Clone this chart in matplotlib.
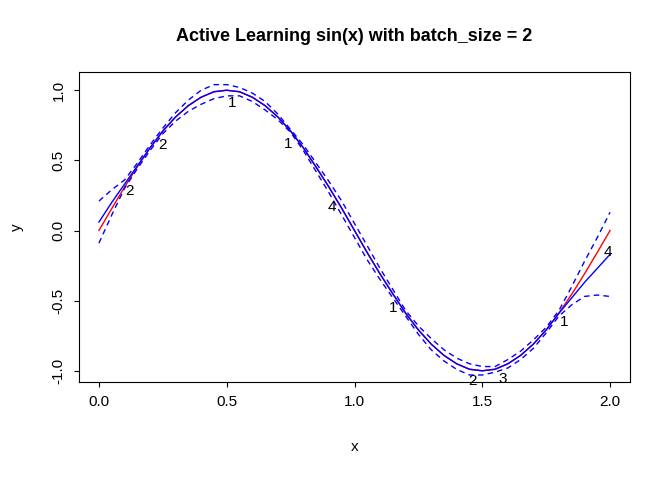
import matplotlib.pyplot as plt

plt.rcParams['font.family'] = ['Liberation Sans', 'DejaVu Sans']

xs = [0.0, 0.05, 0.1, 0.15, 0.2, 0.25, 0.3, 0.35, 0.4, 0.45, 0.5,
      0.55, 0.6, 0.65, 0.7, 0.75, 0.8, 0.85, 0.9, 0.95, 1.0,
      1.05, 1.1, 1.15, 1.2, 1.25, 1.3, 1.35, 1.4, 1.45, 1.5,
      1.55, 1.6, 1.65, 1.7, 1.75, 1.8, 1.85, 1.9, 1.95, 2.0]
true_y = [0, .156, .309, .454, .588, .707, .809, .891, .951, .988, 1,
          .988, .951, .891, .809, .707, .588, .454, .309, .156, 0,
          -.156, -.309, -.454, -.588, -.707, -.809, -.891, -.951, -.988, -1,
          -.988, -.951, -.891, -.809, -.707, -.588, -.454, -.309, -.156, 0]
mean_y = [.06, .20, .33, .46, .59, .71, .81, .89, .95, .99, 1,
          .99, .95, .89, .81, .71, .59, .45, .31, .16, 0,
          -.16, -.31, -.45, -.59, -.71, -.81, -.89, -.95, -.99, -1,
          -.99, -.95, -.89, -.81, -.71, -.59, -.48, -.37, -.27, -.17]
upper_y = [.21, .29, .36, .48, .61, .73, .84, .93, 1.00, 1.04, 1.04,
           1.02, .98, .92, .83, .72, .61, .48, .35, .21, .05,
           -.11, -.27, -.42, -.57, -.68, -.77, -.85, -.91, -.95, -.97,
           -.97, -.92, -.86, -.78, -.69, -.57, -.40, -.22, -.05, .13]
lower_y = [-.09, .11, .30, .44, .57, .69, .78, .85, .90, .94, .96,
           .96, .92, .86, .79, .70, .57, .42, .27, .11, -.05,
           -.21, -.35, -.48, -.61, -.74, -.85, -.93, -.99, -1.03, -1.03,
           -1.01, -.98, -.92, -.84, -.73, -.61, -.53, -.47, -.46, -.47]

# labelled sample points
lab_x = [0.52, 0.25, 0.12, 0.74, 0.91, 1.15, 1.46, 1.58, 1.82, 1.99]
lab_y = [0.91, 0.61, 0.28, 0.62, 0.17, -0.55, -1.07, -1.06, -0.65, -0.15]
labels = ['1', '2', '2', '1', '4', '1', '2', '3', '1', '4']

fig = plt.figure(figsize=(6.72, 4.8), dpi=100)
ax = fig.add_axes([79/672, 1-382/480, (630-79)/672, (382-72)/480])

ax.plot(xs, true_y, color='red', lw=1)
ax.plot(xs, mean_y, color='blue', lw=1)
ax.plot(xs, upper_y, color='blue', lw=1, ls=(0, (4, 3)))
ax.plot(xs, lower_y, color='blue', lw=1, ls=(0, (4, 3)))
for x, y, t in zip(lab_x, lab_y, labels):
    ax.text(x, y, t, ha='center', va='center', fontsize=11)

ax.set_xlim(-0.078, 2.078)
ax.set_ylim(-1.08, 1.13)
ax.set_xticks([0, 0.5, 1.0, 1.5, 2.0])
ax.set_yticks([-1.0, -0.5, 0.0, 0.5, 1.0])
ax.set_yticklabels(['-1.0', '-0.5', '0.0', '0.5', '1.0'], rotation=90, va='center')
ax.tick_params(labelsize=11, pad=6)
ax.set_xlabel('x', fontsize=11, labelpad=22)
ax.set_ylabel('y', fontsize=11, labelpad=20)
ax.set_title('Active Learning sin(x) with batch_size = 2', fontsize=13,
             fontweight='bold', pad=22)

fig.savefig('out.png')
